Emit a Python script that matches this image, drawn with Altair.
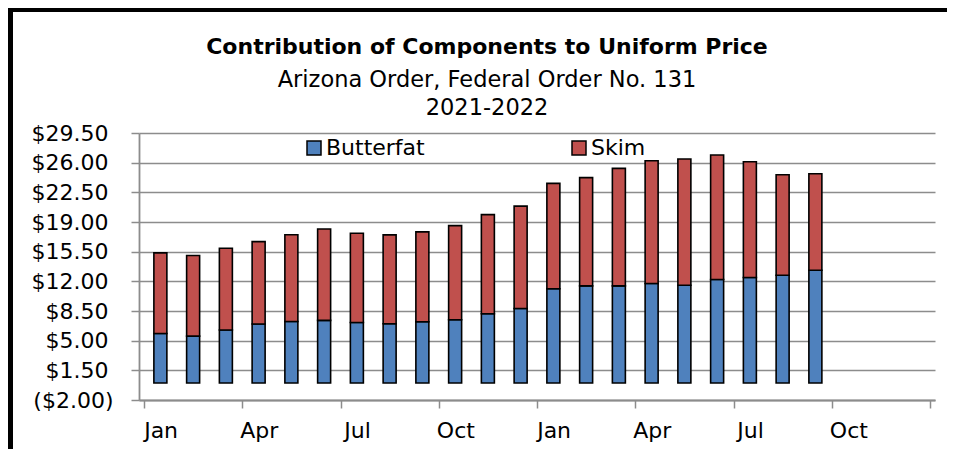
import altair as alt
import pandas as pd

months = ["Jan 2021", "Feb 2021", "Mar 2021", "Apr 2021", "May 2021", "Jun 2021",
          "Jul 2021", "Aug 2021", "Sep 2021", "Oct 2021", "Nov 2021", "Dec 2021",
          "Jan 2022", "Feb 2022", "Mar 2022", "Apr 2022", "May 2022", "Jun 2022",
          "Jul 2022", "Aug 2022", "Sep 2022"]
butterfat = [5.85, 5.54, 6.25, 6.96, 7.27, 7.39, 7.15, 6.99, 7.23, 7.46, 8.17, 8.80,
             11.12, 11.47, 11.47, 11.74, 11.54, 12.21, 12.45, 12.72, 13.31]
skim = [9.51, 9.50, 9.65, 9.73, 10.23, 10.79, 10.52, 10.49, 10.60, 11.11, 11.70, 12.07,
        12.44, 12.76, 13.86, 14.49, 14.89, 14.69, 13.66, 11.86, 11.39]
components = ["Butterfat", "Skim"]
colors = ["#4F81BD", "#C0504D"]
y_ticks = [-2, 1.5, 5, 8.5, 12, 15.5, 19, 22.5, 26, 29.5]
x_ticks = [0, 3, 6, 9, 12, 15, 18, 21, 24]
quarter_labels = ["Jan", "Apr", "Jul", "Oct"]
title_lines = ["Contribution of Components to Uniform Price",
               "Arizona Order, Federal Order No. 131",
               "2021-2022"]

rows = []
for i, m in enumerate(months):
    rows.append({"month": m, "pos": i + 0.5, "component": "Butterfat", "value": butterfat[i], "ord": 0})
    rows.append({"month": m, "pos": i + 0.5, "component": "Skim", "value": skim[i], "ord": 1})
df = pd.DataFrame(rows)

FONT = "DejaVu Sans"
label_arr = "[" + ",".join("'%s'" % q for q in quarter_labels) + "]"

bars = alt.Chart(df).mark_bar(size=13, stroke="black", strokeWidth=1.6).encode(
    x=alt.X("pos:Q", scale=alt.Scale(domain=[0, 24], nice=False, zero=False),
            axis=alt.Axis(values=x_ticks, title=None, grid=False,
                          labelExpr="datum.value >= 24 ? '' : " + label_arr + "[(datum.value/3)%4]",
                          labelOffset=16.6, labelFlush=False, labelOverlap=False,
                          tickSize=8, tickColor="#8c8c8c", tickWidth=1.5,
                          domainColor="#8c8c8c", domainWidth=1.8,
                          labelFont=FONT, labelFontSize=22, labelColor="black",
                          labelPadding=12)),
    y=alt.Y("value:Q", stack="zero",
            scale=alt.Scale(domain=[-2, 29.5], nice=False, zero=False),
            axis=alt.Axis(values=y_ticks, title=None, grid=True,
                          gridColor="#8c8c8c", gridWidth=1.5,
                          labelExpr="datum.value < 0 ? '($' + format(-datum.value, '.2f') + ')' : '$' + format(datum.value, '.2f')",
                          tickSize=8, tickColor="#8c8c8c", tickWidth=1.5,
                          domainColor="#8c8c8c", domainWidth=1.8,
                          labelFont=FONT, labelFontSize=22, labelColor="black",
                          labelPadding={"condition": {"test": "datum.value < 0", "value": 18}, "value": 23},
                          labelFlush=False, labelOverlap=False)),
    color=alt.Color("component:N",
                    scale=alt.Scale(domain=components, range=colors),
                    legend=alt.Legend(title=None, orient="none", direction="horizontal",
                                      legendX=164, legendY=4, padding=0,
                                      symbolType="square", symbolSize=196,
                                      symbolStrokeColor="black", symbolStrokeWidth=1.5,
                                      labelFont=FONT, labelFontSize=22, labelColor="black",
                                      labelOffset=1, columnPadding=143)),
    order=alt.Order("ord:Q"),
)

one = pd.DataFrame({"a": [0]})
frame = alt.Chart(one).mark_rect(
    fill=None, stroke="black", strokeWidth=5
).encode(x=alt.value(-128.5), x2=alt.value(900), y=alt.value(-123.5), y2=alt.value(340))

t1 = alt.Chart(one).mark_text(font=FONT, fontSize=22, fontWeight="bold", color="black",
                              align="center", baseline="alphabetic").encode(
    x=alt.value(348), y=alt.value(-79), text=alt.value(title_lines[0]))
t2 = alt.Chart(one).mark_text(font=FONT, fontSize=22.5, color="black",
                              align="center", baseline="alphabetic").encode(
    x=alt.value(348), y=alt.value(-46), text=alt.value(title_lines[1]))
t3 = alt.Chart(one).mark_text(font=FONT, fontSize=22.5, color="black",
                              align="center", baseline="alphabetic").encode(
    x=alt.value(348), y=alt.value(-18), text=alt.value(title_lines[2]))

chart = alt.layer(frame, bars, t1, t2, t3).properties(
    width=796, height=267,
    autosize=alt.AutoSizeParams(type="none"),
    padding={"left": 131, "top": 125, "right": 12, "bottom": 49},
).configure_view(stroke=None)

chart.save("out.html", embed_options={"renderer": "svg", "actions": False})
